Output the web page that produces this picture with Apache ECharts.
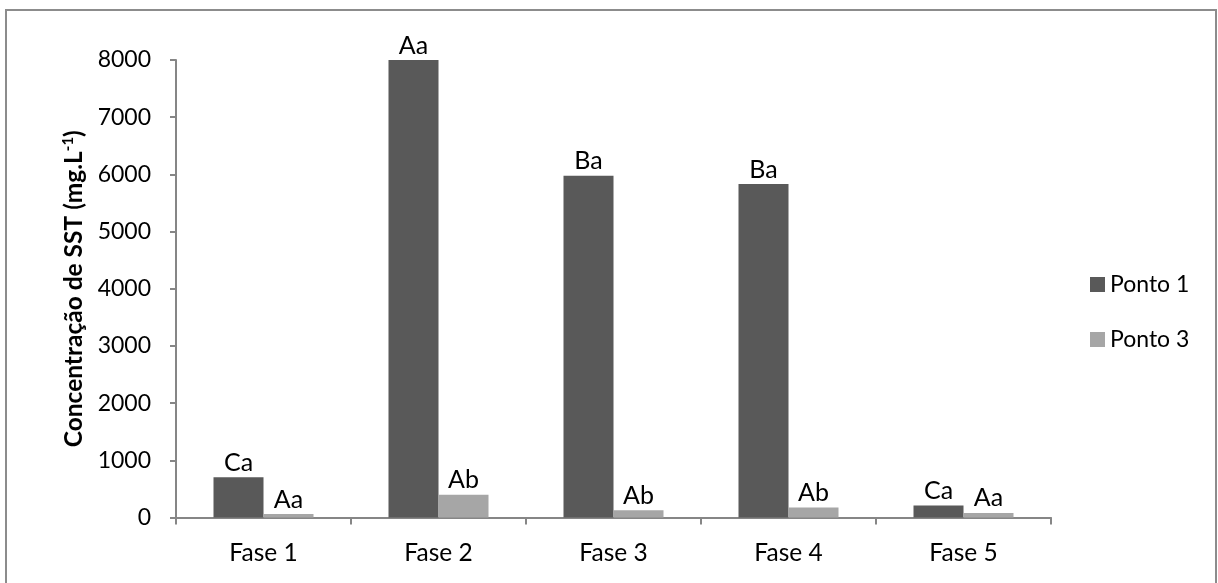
<!DOCTYPE html>
<html>
<head>
<meta charset="utf-8">
<script src="https://cdn.jsdelivr.net/npm/echarts@6/dist/echarts.min.js"></script>
<style>
html,body{margin:0;padding:0;background:#fff;}
#chart{width:1218px;height:583px;}
</style>
</head>
<body>
<div id="chart"></div>
<script>
const categories = ['Fase 1', 'Fase 2', 'Fase 3', 'Fase 4', 'Fase 5'];
const ponto1 = [705, 8010, 5975, 5830, 210];
const ponto3 = [60, 400, 125, 175, 80];
const ponto1Letters = ['Ca', 'Aa', 'Ba', 'Ba', 'Ca'];
const ponto3Letters = ['Aa', 'Ab', 'Ab', 'Ab', 'Aa'];
const yTicks = [0, 1000, 2000, 3000, 4000, 5000, 6000, 7000, 8000];

const FONT = 'Lato';
const chart = echarts.init(document.getElementById('chart'), null, {renderer: 'canvas'});
const labelStyle = (letters) => ({
  show: true,
  position: 'top',
  distance: 2,
  fontFamily: FONT,
  fontSize: 25,
  color: '#000',
  formatter: (p) => letters[p.dataIndex]
});
chart.setOption({
  animation: false,
  backgroundColor: '#fff',
  textStyle: {fontFamily: FONT},
  graphic: [{
    type: 'rect',
    shape: {x: 6, y: 10, width: 1210, height: 620},
    style: {fill: 'none', stroke: '#8c8c8c', lineWidth: 2},
    silent: true
  }],
  grid: {left: 176, right: 167, top: 60, bottom: 65.5, containLabel: false},
  legend: {
    orient: 'vertical',
    left: 1085,
    top: 268,
    itemWidth: 15,
    itemHeight: 15,
    itemGap: 32,
    icon: 'rect',
    textStyle: {fontFamily: FONT, fontSize: 23, color: '#000', lineHeight: 15, padding: [0, 0, 0, 0]},
    data: ['Ponto 1', 'Ponto 3']
  },
  xAxis: {
    type: 'category',
    data: categories,
    axisLine: {lineStyle: {color: '#868686', width: 2}},
    axisTick: {show: true, length: 7, lineStyle: {color: '#868686', width: 2}},
    axisLabel: {fontFamily: FONT, fontSize: 24.5, color: '#000', margin: 23}
  },
  yAxis: {
    type: 'value',
    min: yTicks[0],
    max: yTicks[yTicks.length - 1],
    interval: 1000,
    splitLine: {show: false},
    axisLine: {show: true, lineStyle: {color: '#868686', width: 2}},
    axisTick: {show: true, length: 6, lineStyle: {color: '#868686', width: 2}},
    axisLabel: {fontFamily: FONT, fontSize: 23, color: '#000', margin: 25, formatter: (v) => String(v)},
    name: '{b|Concentração de SST (mg.L}{sup|-1}{b|)}',
    nameLocation: 'middle',
    nameRotate: 90,
    nameGap: 88,
    nameTextStyle: {
      rich: {
        b: {fontFamily: FONT, fontSize: 24.5, fontWeight: 'bold', color: '#000', lineHeight: 27},
        sup: {fontFamily: FONT, fontSize: 15, fontWeight: 'bold', color: '#000', lineHeight: 27, verticalAlign: 'top', padding: [0, 0, 10, 0]}
      }
    }
  },
  series: [
    {
      name: 'Ponto 1', type: 'bar', data: ponto1, barWidth: 50, barGap: '0%',
      itemStyle: {color: '#595959'}, label: labelStyle(ponto1Letters)
    },
    {
      name: 'Ponto 3', type: 'bar', data: ponto3, barWidth: 50,
      itemStyle: {color: '#a6a6a6'}, label: labelStyle(ponto3Letters)
    }
  ]
});
</script>
</body>
</html>
